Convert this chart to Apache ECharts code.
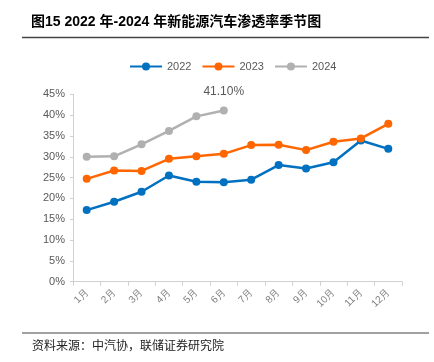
<!DOCTYPE html>
<html><head><meta charset="utf-8">
<script src="https://cdn.jsdelivr.net/npm/echarts@6/dist/echarts.min.js"></script>
<style>html,body{margin:0;padding:0;background:#fff}#c{width:434px;height:362px}</style>
</head><body><div id="c"></div>
<script>
const categories = ['1月','2月','3月','4月','5月','6月','7月','8月','9月','10月','11月','12月'];
const s2022 = [17.2, 19.2, 21.6, 25.5, 24.0, 23.9, 24.5, 28.0, 27.2, 28.7, 33.9, 31.9];
const s2023 = [24.7, 26.7, 26.6, 29.5, 30.1, 30.7, 32.8, 32.9, 31.6, 33.6, 34.4, 37.9];
const s2024 = [30.0, 30.1, 33.0, 36.2, 39.7, 41.1];
const seriesNames = ['2022','2023','2024'];
const colors = ['#0070C0','#FF6600','#B0B0B0'];
const chart = echarts.init(document.getElementById('c'), null, {renderer:'canvas'});
const font = '"Liberation Sans", Arial, sans-serif';
function mk(name, data, color, labelIdx) {
  return {
    name, type:'line', data, smooth:false,
    symbol:'circle', symbolSize:8,
    lineStyle:{color, width:2.5},
    itemStyle:{color},
    label: {
      show:true, position:'top', distance:9, color:'#595959', fontSize:12, fontFamily:font,
      formatter: p => (labelIdx !== null && p.dataIndex === labelIdx) ? p.value.toFixed(2) + '%' : ''
    },
    emphasis:{disabled:true}
  };
}
chart.setOption({
  animation:false,
  color: colors,
  graphic: [
    {type:'text', left:31, top:15, style:{text:'图15 2022 年-2024 年新能源汽车渗透率季节图', font:'bold 14px "Liberation Sans", "Noto Sans CJK SC", sans-serif', fill:'#000'}},
    {type:'line', shape:{x1:22,y1:37.5,x2:429,y2:37.5}, style:{stroke:'#444', lineWidth:1.5}},
    {type:'line', shape:{x1:22,y1:333,x2:429,y2:333}, style:{stroke:'#444', lineWidth:1.2}},
    {type:'text', left:32, top:339, style:{text:'资料来源：中汽协，联储证券研究院', font:'12px "Noto Sans CJK SC", sans-serif', fill:'#222'}}
  ],
  legend: {
    left:124, top:56, itemWidth:32, itemHeight:10, itemGap:10,
    textStyle:{color:'#595959', fontSize:11, fontFamily:font},
    data: seriesNames
  },
  grid: {left:73, right:32, top:94.3, bottom:80.3, containLabel:false},
  xAxis: {
    type:'category', data:categories, boundaryGap:true,
    axisLine:{lineStyle:{color:'#D0D0D0'}},
    axisTick:{show:true, alignWithLabel:false, length:4, lineStyle:{color:'#D0D0D0'}},
    axisLabel:{rotate:45, color:'#7F7F7F', fontSize:10, fontFamily:font, margin:9, interval:0}
  },
  yAxis: {
    type:'value', min:0, max:45, interval:5,
    axisLine:{show:true, lineStyle:{color:'#D0D0D0'}},
    axisTick:{show:true, length:3, lineStyle:{color:'#D0D0D0'}},
    splitLine:{show:false},
    axisLabel:{color:'#595959', fontSize:11, fontFamily:font, margin:8, formatter:'{value}%'}
  },
  series: [
    mk('2022', s2022, colors[0], null),
    mk('2023', s2023, colors[1], null),
    mk('2024', s2024, colors[2], 5)
  ]
});
</script></body></html>
